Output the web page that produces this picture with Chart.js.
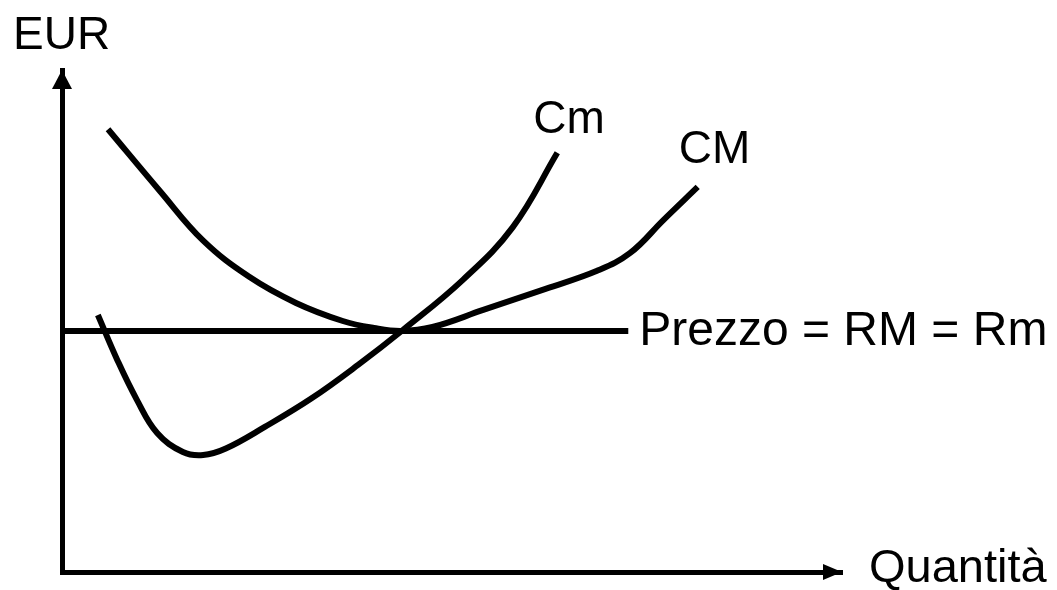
<!DOCTYPE html>
<html>
<head>
<meta charset="utf-8">
<script src="https://cdn.jsdelivr.net/npm/chart.js@4"></script>
<style>
  html, body { margin: 0; padding: 0; background: #fff; }
  #wrap { width: 1057px; height: 590px; }
</style>
</head>
<body>
<div id="wrap"><canvas id="grafico"></canvas></div>
<script>
// costo medio (CM)
const quantitaCM = [5.9, 12.6, 18.1, 24.0, 30.0, 36.0, 40.0, 43.5, 47.5, 54.0, 62.0, 68.6, 72.8, 77.1, 81.5];
const costoMedio = [88.2, 75.8, 66.0, 58.8, 53.6, 50.0, 48.6, 48.0, 48.8, 52.2, 56.4, 60.0, 63.5, 70.1, 76.7];

// costo marginale (Cm)
const quantitaCm = [4.6, 7.1, 9.6, 12.2, 15.5, 18.1, 21.0, 26.0, 32.0, 38.0, 43.7, 51.4, 57.8, 63.5];
const costoMarginale = [51.2, 42.2, 34.3, 27.7, 23.9, 23.3, 24.6, 28.9, 34.6, 41.3, 48.2, 58.2, 68.7, 83.5];

// prezzo = RM = Rm
const quantitaPrezzo = [0, 72.6];
const prezzo = [48, 48];

const etichette = ['Cm', 'CM', 'Prezzo = RM = Rm'];
const assi = ['EUR', 'Quantità'];

const punti = (xs, ys) => xs.map((x, i) => ({ x: x, y: ys[i] }));
const FONT = '"Liberation Sans", Arial, sans-serif';

const disegnaTesti = {
  id: 'testi',
  afterDraw(chart) {
    const ctx = chart.ctx;
    const xs = chart.scales.x, ys = chart.scales.y;
    const x0 = xs.getPixelForValue(0), xMax = xs.getPixelForValue(100);
    const y0 = ys.getPixelForValue(0), yMax = ys.getPixelForValue(100);
    ctx.save();
    ctx.fillStyle = '#000';

    // frecce
    ctx.beginPath();
    ctx.moveTo(x0, yMax);
    ctx.lineTo(x0 - 10, yMax + 19);
    ctx.lineTo(x0 + 10, yMax + 19);
    ctx.closePath();
    ctx.fill();
    ctx.beginPath();
    ctx.moveTo(xMax, y0);
    ctx.lineTo(xMax - 19, y0 - 8);
    ctx.lineTo(xMax - 19, y0 + 8);
    ctx.closePath();
    ctx.fill();

    ctx.textBaseline = 'alphabetic';
    ctx.textAlign = 'left';

    ctx.font = '46px ' + FONT;
    ctx.fillText(assi[0], x0 - 49, yMax - 21);
    ctx.font = '47px ' + FONT;
    ctx.fillText(assi[1], xMax + 27, y0 + 10);

    const fine = i => {
      const d = chart.getDatasetMeta(i).data;
      return d[d.length - 1];
    };
    ctx.font = '46px ' + FONT;
    let p = fine(1);
    ctx.fillText(etichette[0], p.x - 24, p.y - 20);
    p = fine(0);
    ctx.fillText(etichette[1], p.x - 19, p.y - 24);

    p = fine(2);
    ctx.font = '48px ' + FONT;
    ctx.textBaseline = 'middle';
    ctx.fillText(etichette[2], p.x + 11, p.y + 1);
    ctx.restore();
  }
};

new Chart(document.getElementById('grafico'), {
  type: 'line',
  data: {
    datasets: [
      { label: 'CM', data: punti(quantitaCM, costoMedio), borderColor: '#000', borderWidth: 6, pointRadius: 0, tension: 0.4, fill: false },
      { label: 'Cm', data: punti(quantitaCm, costoMarginale), borderColor: '#000', borderWidth: 6, pointRadius: 0, tension: 0.4, fill: false },
      { label: 'Prezzo', data: punti(quantitaPrezzo, prezzo), borderColor: '#000', borderWidth: 6, pointRadius: 0, tension: 0, fill: false }
    ]
  },
  options: {
    responsive: true,
    maintainAspectRatio: false,
    animation: false,
    events: [],
    layout: { padding: { left: 62, top: 70, right: 215, bottom: 18 } },
    plugins: { legend: { display: false }, tooltip: { enabled: false } },
    scales: {
      x: {
        type: 'linear', min: 0, max: 100,
        grid: { display: false, drawTicks: false },
        ticks: { display: false },
        border: { display: true, width: 5, color: '#000' }
      },
      y: {
        type: 'linear', min: 0, max: 100,
        grid: { display: false, drawTicks: false },
        ticks: { display: false },
        border: { display: true, width: 5, color: '#000' }
      }
    }
  },
  plugins: [disegnaTesti]
});
</script>
</body>
</html>
